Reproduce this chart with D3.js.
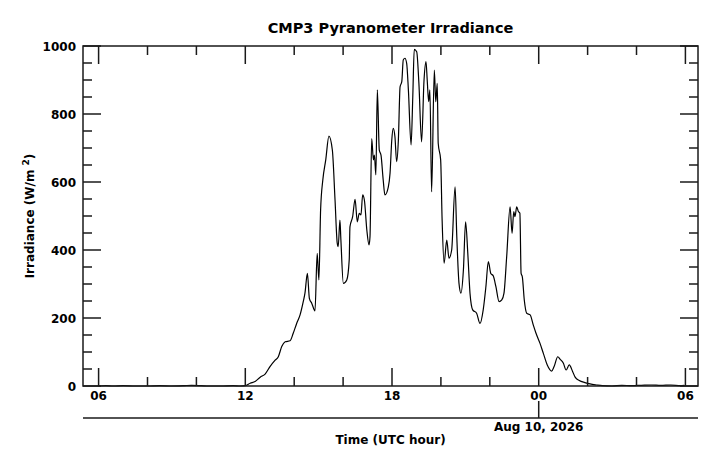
<!DOCTYPE html>
<html>
<head>
<meta charset="utf-8">
<script src="https://cdn.jsdelivr.net/npm/d3@7"></script>
<style>
  html, body { margin: 0; padding: 0; background: #fff; }
  svg { display: block; }
  text { font-family: "DejaVu Sans", sans-serif; font-weight: bold; fill: #000; }
</style>
</head>
<body>
<svg id="chart" width="720" height="467"></svg>
<script>
// ---- Data (hours since 00 UTC Aug 9; 24 = 00 Aug 10) ----
const hours = [
  6.0, 6.3, 6.6, 7.0, 7.5, 8.0, 8.5, 9.0, 9.5, 9.8, 10.2, 10.5, 11.0, 11.5, 11.8, 12.0,
  12.20, 12.40, 12.61, 12.81, 13.01, 13.22, 13.35, 13.49, 13.63, 13.83, 13.96, 14.10, 14.24, 14.37,
  14.44, 14.54, 14.62, 14.72, 14.85, 14.94, 15.01, 15.08, 15.17, 15.29, 15.42, 15.56, 15.67, 15.76,
  15.80, 15.87, 15.91, 16.01, 16.15, 16.25,
  16.28, 16.39, 16.49, 16.58, 16.66, 16.73, 16.80, 16.87, 16.97, 17.06, 17.10, 17.17, 17.24, 17.28,
  17.34, 17.40, 17.48, 17.55, 17.64, 17.71, 17.85, 17.92, 17.99, 18.05, 18.12, 18.19, 18.26, 18.33,
  18.40, 18.46, 18.53, 18.60, 18.67, 18.78, 18.85, 18.91, 19.01, 19.10, 19.21, 19.31, 19.39, 19.44,
  19.50, 19.55, 19.62, 19.73, 19.79, 19.85, 19.89, 19.99, 20.05, 20.13,
  20.24, 20.33, 20.44, 20.58, 20.65, 20.74, 20.82, 20.92, 21.01, 21.10, 21.19, 21.30, 21.46, 21.60,
  21.73, 21.84, 21.94, 22.04, 22.14, 22.25, 22.38, 22.49, 22.58, 22.69, 22.83, 22.91, 22.98, 23.03,
  23.10, 23.17, 23.23, 23.28, 23.33, 23.41, 23.51, 23.65, 23.78, 23.89, 24.05, 24.19, 24.35, 24.53,
  24.63, 24.78, 24.87, 25.01, 25.12, 25.25, 25.39, 25.49, 25.66, 25.89, 26.10, 26.37,
  26.6, 27.0, 27.4, 27.8, 28.2, 28.6, 29.0, 29.4, 29.8, 29.95
];
const irradiance = [
  0, 1, 0, 1, 0, 0, 1, 0, 1, 2, 1, 0, 0, 1, 0, 1,
  8, 13, 26, 35, 57, 76, 86, 116, 130, 133, 155, 184, 209, 248,
  273, 331, 258, 243, 221, 390, 312, 518, 606, 665, 735, 694, 547, 420,
  410, 488, 429, 302, 312, 371,
  468, 498, 549, 483, 508, 503, 562, 547, 459, 415, 439, 728, 665, 679,
  621, 871, 694, 679, 606, 562, 586, 626, 723, 758, 733, 660, 723, 880,
  895, 959, 964, 949, 871, 709, 851, 990, 983, 890, 718, 900, 954, 900,
  836, 871, 571, 929, 836, 890, 714, 665, 488, 361,
  429, 376, 400, 586, 439, 302, 273, 341, 483, 390, 273, 224, 214, 184,
  224, 292, 366, 331, 324, 292, 248, 253, 273, 380, 527, 449, 513, 498,
  527, 513, 508, 331, 321, 253, 214, 209, 179, 155, 126, 96, 62, 44,
  57, 86, 79, 67, 47, 62, 42, 26, 16, 10, 6, 3,
  1, 0, 2, 1, 2, 3, 2, 3, 1, 2
];
const majorHourTicks = [6, 12, 18, 24, 30];
const majorHourLabels = ["06", "12", "18", "00", "06"];
const minorHourTicks = [8, 10, 14, 16, 20, 22, 26, 28];
const yMajorTicks = [0, 200, 400, 600, 800, 1000];
const yMinorTicks = [50, 100, 150, 250, 300, 350, 450, 500, 550, 650, 700, 750, 850, 900, 950];
const titleText = "CMP3 Pyranometer Irradiance";
const xTitle = "Time (UTC hour)";
const dateLabel = "Aug 10, 2026";
const dateTickHour = 24;

// ---- Layout ----
const L = 83, R = 698, T = 46, B = 386;
const svg = d3.select("#chart");
const x = d3.scaleLinear().domain([5.362, 30.515]).range([L, R]);
const y = d3.scaleLinear().domain([0, 1000]).range([B, T]);
const axisColor = "#1a1a1a";

// data line
const line = d3.line()
  .x((d, i) => x(hours[i]))
  .y((d, i) => y(irradiance[i]))
  .curve(d3.curveMonotoneX);
svg.append("path")
  .attr("d", line(irradiance))
  .attr("fill", "none")
  .attr("stroke", "#000")
  .attr("stroke-width", 1.2);

// frame
svg.append("rect")
  .attr("x", L).attr("y", T).attr("width", R - L).attr("height", B - T)
  .attr("fill", "none").attr("stroke", axisColor).attr("stroke-width", 1.5);

// x ticks (bottom and top, inward)
const gx = svg.append("g").attr("stroke", axisColor).attr("stroke-width", 1.5);
majorHourTicks.forEach(h => {
  gx.append("line").attr("x1", x(h)).attr("x2", x(h)).attr("y1", B).attr("y2", B - 18);
  gx.append("line").attr("x1", x(h)).attr("x2", x(h)).attr("y1", T).attr("y2", T + 18);
});
minorHourTicks.forEach(h => {
  gx.append("line").attr("x1", x(h)).attr("x2", x(h)).attr("y1", B).attr("y2", B - 9);
  gx.append("line").attr("x1", x(h)).attr("x2", x(h)).attr("y1", T).attr("y2", T + 9);
});
majorHourTicks.forEach((h, i) => {
  svg.append("text").attr("x", x(h)).attr("y", 400)
    .attr("text-anchor", "middle").attr("font-size", 12).text(majorHourLabels[i]);
});

// y ticks (left and right, inward)
const gy = svg.append("g").attr("stroke", axisColor).attr("stroke-width", 1.5);
yMajorTicks.forEach(v => {
  gy.append("line").attr("x1", L).attr("x2", L + 18).attr("y1", y(v)).attr("y2", y(v));
  gy.append("line").attr("x1", R).attr("x2", R - 18).attr("y1", y(v)).attr("y2", y(v));
});
yMinorTicks.forEach(v => {
  gy.append("line").attr("x1", L).attr("x2", L + 9).attr("y1", y(v)).attr("y2", y(v));
  gy.append("line").attr("x1", R).attr("x2", R - 9).attr("y1", y(v)).attr("y2", y(v));
});
yMajorTicks.forEach(v => {
  svg.append("text").attr("x", 76).attr("y", y(v) + 4.5)
    .attr("text-anchor", "end").attr("font-size", 12).text(v);
});

// secondary date axis
const dateY = 418;
svg.append("line").attr("x1", L).attr("x2", R).attr("y1", dateY).attr("y2", dateY)
  .attr("stroke", axisColor).attr("stroke-width", 1.5);
svg.append("line").attr("x1", x(dateTickHour)).attr("x2", x(dateTickHour))
  .attr("y1", dateY).attr("y2", dateY - 17)
  .attr("stroke", axisColor).attr("stroke-width", 1.5);
svg.append("text").attr("x", x(dateTickHour)).attr("y", 431)
  .attr("text-anchor", "middle").attr("font-size", 12).text(dateLabel);

// titles
svg.append("text").attr("x", (L + R) / 2).attr("y", 33)
  .attr("text-anchor", "middle").attr("font-size", 14.5).text(titleText);
svg.append("text").attr("x", (L + R) / 2).attr("y", 444)
  .attr("text-anchor", "middle").attr("font-size", 12).text(xTitle);

const yl = svg.append("text")
  .attr("transform", `translate(34,${(T + B) / 2}) rotate(-90)`)
  .attr("text-anchor", "middle").attr("font-size", 12);
yl.append("tspan").text("Irradiance (W/m ");
yl.append("tspan").attr("font-size", 9).attr("dy", -5).text("2");
yl.append("tspan").attr("dy", 5).text(")");
</script>
</body>
</html>
